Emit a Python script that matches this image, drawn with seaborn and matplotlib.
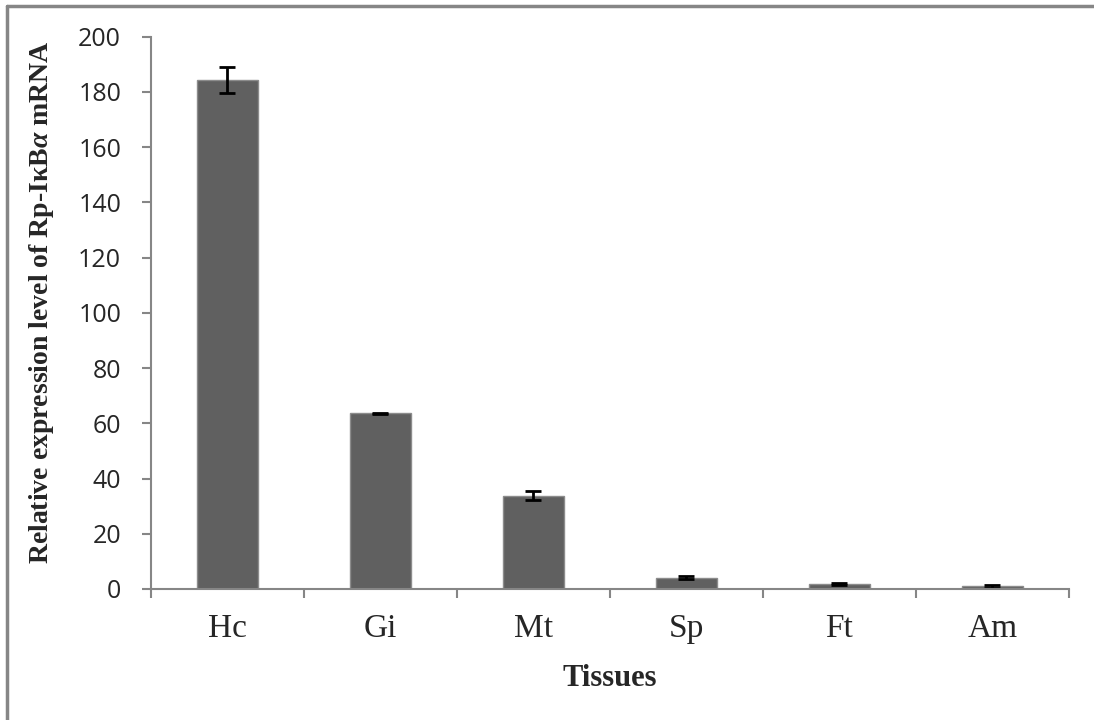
import pandas as pd
import numpy as np
import matplotlib
matplotlib.use("Agg")
from matplotlib import pyplot as plt
from matplotlib.lines import Line2D
import seaborn as sns

# donnees
tissues = ['Hc', 'Gi', 'Mt', 'Sp', 'Ft', 'Am']
expression = [184.3, 63.6, 33.8, 4.1, 1.7, 0.9]
erreur = [4.7, 0.3, 1.7, 0.5, 0.4, 0.4]
yticks = [0, 20, 40, 60, 80, 100, 120, 140, 160, 180, 200]

df = pd.DataFrame({'Tissue': tissues, 'Expression': expression, 'Err': erreur})

sns.set_style('white')
plt.rcParams['mathtext.fontset'] = 'custom'
plt.rcParams['mathtext.rm'] = 'Liberation Serif:bold'
plt.rcParams['mathtext.it'] = 'Liberation Serif:italic:bold'

gris = '#868686'

fig = plt.figure(figsize=(10.94, 7.2), dpi=100)
ax = fig.add_axes([0.138, 0.182, 0.839, 0.767])

sns.barplot(data=df, x='Tissue', y='Expression', color='#606060', width=0.4,
            saturation=1, edgecolor='#8c8c8c', linewidth=1, ax=ax)
ax.errorbar(np.arange(len(tissues)), df['Expression'], yerr=df['Err'],
            fmt='none', ecolor='black', elinewidth=2, capsize=6, capthick=2)

ax.set_xlim(-0.5, len(tissues) - 0.5)
ax.set_ylim(0, 200)
ax.set_yticks(yticks)
ax.set_yticklabels([str(v) for v in yticks], fontfamily='Open Sans', fontsize=18)

# graduations x entre les categories
ax.set_xticks(np.arange(-0.5, len(tissues)), minor=True)
ax.tick_params(axis='x', which='major', bottom=False, length=0, pad=18)
ax.tick_params(axis='x', which='minor', bottom=True, length=6.5, width=1.5, color=gris, direction='out')
ax.tick_params(axis='y', left=True, length=6.5, width=1.5, color=gris, direction='out', pad=15)
for lab in ax.get_xticklabels():
    lab.set_fontfamily('Liberation Serif')
    lab.set_fontsize(24)

for s in ['top', 'right']:
    ax.spines[s].set_visible(False)
for s in ['left', 'bottom']:
    ax.spines[s].set_color(gris)
    ax.spines[s].set_linewidth(1.5)

ax.set_xlabel('Tissues', fontfamily='Liberation Serif', fontweight='bold', fontsize=22, labelpad=14)
ax.set_ylabel(r'Relative expression level of Rp-I$\mathrm{\kappa}$B$\alpha$ mRNA',
              fontfamily='Liberation Serif', fontweight='bold', fontsize=20)
ax.yaxis.set_label_coords(-0.104, 0.52)

# cadre gris (haut et gauche)
fig.add_artist(Line2D([0.006, 1], [0.991, 0.991], color=gris, lw=2.5, transform=fig.transFigure))
fig.add_artist(Line2D([0.006, 0.006], [0, 0.991], color=gris, lw=2.5, transform=fig.transFigure))

fig.savefig('out.png', dpi=100)
